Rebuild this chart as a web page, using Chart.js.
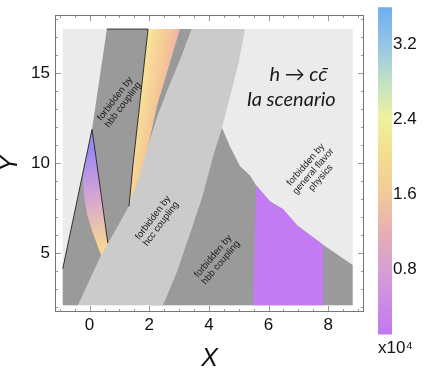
<!DOCTYPE html>
<html>
<head>
<meta charset="utf-8">
<script src="https://cdn.jsdelivr.net/npm/chart.js@4.4.1/dist/chart.umd.min.js"></script>
<style>
    html, body { margin: 0; padding: 0; background: #fff; }
    #wrap { position: relative; width: 425px; height: 369px; overflow: hidden; }
    #main { position: absolute; left: 0; top: 0; }
    #bar { position: absolute; left: 370px; top: -4px; }
</style>
</head>
<body>
<div id="wrap">
    <canvas id="main" width="425" height="369"></canvas>
    <canvas id="bar" width="55" height="373"></canvas>
</div>
<script>
// ---- axis ticks ----
const xTicks = [0, 2, 4, 6, 8];
const xMinorTicks = [-1, -0.5, 0, 0.5, 1, 1.5, 2, 2.5, 3, 3.5, 4, 4.5, 5, 5.5, 6, 6.5, 7, 7.5, 8, 8.5, 9];
const yTicks = [5, 10, 15];
const yMinorTicks = [2, 3, 4, 5, 6, 7, 8, 9, 10, 11, 12, 13, 14, 15, 16, 17, 18];

// ---- regions (X, Y outlines) ----
const bgX = [-0.90, 8.82, 8.82, -0.90];
const bgY = [2.10, 2.10, 17.45, 17.45];

const hbbLeftX = [0.58, 3.43, 3.03, 2.59, 2.26, 1.96, 1.69, 1.32, -0.39, -0.90, -0.90, 0.08];
const hbbLeftY = [17.45, 17.45, 15.71, 13.95, 12.51, 10.91, 9.31, 7.60, 2.10, 2.10, 4.13, 11.87];

const bandAX = [0.08, -0.16, -0.22, -0.19, -0.09, 0.11, 0.35, 0.48, 0.61, 0.48, 0.35, 0.21];
const bandAY = [11.87, 9.84, 9.20, 8.24, 7.17, 6.10, 5.04, 4.61, 5.57, 7.17, 8.77, 10.37];

const bandBX = [1.96, 3.03, 2.59, 2.26, 1.96, 1.69, 1.32, 1.45];
const bandBY = [17.45, 17.45, 15.02, 13.20, 10.91, 9.31, 7.60, 9.84];

const hccX = [3.43, 3.03, 2.59, 2.26, 1.96, 1.69, 1.32, 0.35, -0.39, 2.46, 2.93, 3.37, 3.80, 4.14, 4.44, 4.71, 4.98, 5.21];
const hccY = [17.45, 15.71, 13.95, 12.51, 10.91, 9.31, 7.60, 4.77, 2.10, 2.10, 3.97, 6.10, 8.24, 10.37, 11.97, 13.73, 15.44, 17.45];

const hbbRightX = [2.02, 3.87, 4.44, 4.71, 4.88, 5.04, 5.38, 5.58, 6.05, 6.49, 6.96, 7.83, 8.82, 8.82];
const hbbRightY = [2.10, 9.84, 11.97, 10.91, 10.37, 9.84, 9.31, 8.77, 7.87, 7.44, 6.53, 5.46, 4.34, 2.10];

const allowedX = [5.58, 6.05, 6.49, 6.96, 7.83, 7.83, 5.48];
const allowedY = [8.77, 7.87, 7.44, 6.53, 5.46, 2.10, 2.10];

// black outline segments
const edge1X = [-0.90, 0.08];
const edge1Y = [4.13, 11.87];
const edge2X = [0.58, 1.96, 1.45, 1.32];
const edge2Y = [17.45, 17.45, 9.84, 7.60];
const edge3X = [0.08, 0.21, 0.61];
const edge3Y = [11.87, 10.37, 5.57];

// ---- annotations ----
const noteX = [0.99, 2.26, 4.27, 7.50];
const noteY = [13.41, 6.80, 4.65, 9.55];
const noteAngle = [-53, -53, -50, -49];
const noteText = [
    ['forbidden by', 'hbb coupling'],
    ['forbidden by', 'hcc coupling'],
    ['forbidden by', 'hbb coupling'],
    ['forbidden by', 'general flavor', 'physics']
];
const headX = [7.0, 6.76];
const headY = [14.9, 13.55];
const headText = ['h \u2192 cc\u0304', 'Ia scenario'];

// ---- colour bar (x10^4) ----
const cbMin = 0.1;
const cbMax = 3.6;
const cbTicks = [0.8, 1.6, 2.4, 3.2];

const FONT = "'Liberation Sans', Arial, sans-serif";

function poly(xs, ys) {
    const pts = xs.map((x, i) => ({ x, y: ys[i] }));
    pts.push({ x: xs[0], y: ys[0] });
    return pts;
}

function area(xs, ys, color, order) {
    return {
        data: poly(xs, ys), backgroundColor: color, fill: 'shape',
        borderWidth: 0, pointRadius: 0, tension: 0, order
    };
}

function edge(xs, ys) {
    return {
        data: xs.map((x, i) => ({ x, y: ys[i] })), fill: false,
        borderColor: '#222', borderWidth: 0.9, pointRadius: 0, tension: 0, order: 1
    };
}

// gradient in data coordinates
function dataGradient(x0, y0, x1, y1, stops) {
    return ctx => {
        const { chart } = ctx;
        if (!chart.chartArea) return stops[0][1];
        const sx = chart.scales.x, sy = chart.scales.y;
        const g = chart.ctx.createLinearGradient(
            sx.getPixelForValue(x0), sy.getPixelForValue(y0),
            sx.getPixelForValue(x1), sy.getPixelForValue(y1));
        stops.forEach(s => g.addColorStop(s[0], s[1]));
        return g;
    };
}

const frameTicks = {
    id: 'frameTicks',
    afterDraw(chart) {
        const { ctx, chartArea: a, scales: { x, y } } = chart;
        ctx.save();
        ctx.strokeStyle = '#9a9a9a';
        ctx.lineWidth = 1;
        ctx.beginPath();
        xMinorTicks.forEach(v => {
            const p = Math.round(x.getPixelForValue(v)) + 0.5;
            const len = xTicks.includes(v) ? 6 : 3;
            ctx.moveTo(p, a.bottom); ctx.lineTo(p, a.bottom - len);
            ctx.moveTo(p, a.top); ctx.lineTo(p, a.top + len);
        });
        yMinorTicks.forEach(v => {
            const p = Math.round(y.getPixelForValue(v)) + 0.5;
            const len = yTicks.includes(v) ? 6 : 3;
            ctx.moveTo(a.left, p); ctx.lineTo(a.left + len, p);
            ctx.moveTo(a.right, p); ctx.lineTo(a.right - len, p);
        });
        ctx.stroke();
        ctx.strokeStyle = '#777';
        ctx.strokeRect(Math.round(a.left) + 0.5, Math.round(a.top) + 0.5,
            Math.round(a.width) - 1, Math.round(a.height) - 1);
        ctx.restore();
    }
};

const notes = {
    id: 'notes',
    afterDatasetsDraw(chart) {
        const { ctx, scales: { x, y } } = chart;
        ctx.save();
        ctx.fillStyle = '#1a1a1a';
        ctx.textAlign = 'center';
        ctx.textBaseline = 'middle';
        ctx.font = '9.5px ' + FONT;
        noteText.forEach((lines, i) => {
            ctx.save();
            ctx.translate(x.getPixelForValue(noteX[i]), y.getPixelForValue(noteY[i]));
            ctx.rotate(noteAngle[i] * Math.PI / 180);
            lines.forEach((t, j) => ctx.fillText(t, 0, (j - (lines.length - 1) / 2) * 10));
            ctx.restore();
        });
        ctx.font = "italic 20px Lato, 'Open Sans', sans-serif";
        headText.forEach((t, i) => {
            ctx.fillText(t, x.getPixelForValue(headX[i]), y.getPixelForValue(headY[i]));
        });
        ctx.restore();
    }
};

new Chart(document.getElementById('main'), {
    type: 'line',
    data: {
        datasets: [
            area(bgX, bgY, '#ebebeb', 10),
            area(hbbLeftX, hbbLeftY, '#9a9a9a', 9),
            area(hbbRightX, hbbRightY, '#9a9a9a', 9),
            area(bandAX, bandAY, dataGradient(-0.15, 10.6, 0.55, 5.2,
                [[0, '#9c8af4'], [0.45, '#d6a4d4'], [1, '#f8da8e']]), 8),
            area(bandBX, bandBY, dataGradient(1.7, 15.2, 3.05, 14.8,
                [[0, '#f8e79a'], [0.5, '#f5c896'], [1, '#eea2b6']]), 8),
            area(hccX, hccY, '#cbcbcb', 7),
            area(allowedX, allowedY, '#c37bf1', 6),
            edge(edge1X, edge1Y),
            edge(edge2X, edge2Y),
            edge(edge3X, edge3Y)
        ]
    },
    options: {
        responsive: false,
        animation: false,
        layout: { padding: { top: 3, right: 61, left: 0, bottom: 0 } },
        plugins: { legend: { display: false }, tooltip: { enabled: false } },
        scales: {
            x: {
                type: 'linear', min: -1.16, max: 9.2,
                afterBuildTicks: s => { s.ticks = xTicks.map(v => ({ value: v })); },
                afterFit: s => { s.height = 57; },
                grid: { display: false, drawTicks: false },
                border: { display: false },
                ticks: { padding: 3, color: '#111', maxRotation: 0, autoSkip: false, font: { size: 17, family: FONT } },
                title: { display: true, text: 'X', color: '#111', padding: 0,
                    font: { size: 25, style: 'italic', family: FONT, lineHeight: 0.8 } }
            },
            y: {
                type: 'linear', min: 1.73, max: 18.22,
                afterBuildTicks: s => { s.ticks = yTicks.map(v => ({ value: v })); },
                afterFit: s => { s.width = 55; },
                grid: { display: false, drawTicks: false },
                border: { display: false },
                ticks: { padding: 5, color: '#111', font: { size: 17, family: FONT } },
                title: { display: true, text: 'Y', color: '#111', padding: 0,
                    font: { size: 25, style: 'italic', family: FONT, lineHeight: 0.8 } }
            }
        }
    },
    plugins: [frameTicks, notes]
});

// ---- colour bar ----
new Chart(document.getElementById('bar'), {
    type: 'bar',
    data: {
        labels: [''],
        datasets: [{
            data: [[cbMin, cbMax]],
            barPercentage: 1, categoryPercentage: 1, borderWidth: 0,
            backgroundColor: ctx => {
                const a = ctx.chart.chartArea;
                if (!a) return '#c37bf1';
                const g = ctx.chart.ctx.createLinearGradient(0, a.bottom, 0, a.top);
                g.addColorStop(0, '#c277f3');
                g.addColorStop(0.2, '#d6a0d2');
                g.addColorStop(0.31, '#e6aeb4');
                g.addColorStop(0.43, '#f2ca98');
                g.addColorStop(0.55, '#f3de90');
                g.addColorStop(0.66, '#eef29e');
                g.addColorStop(0.77, '#c2e2c4');
                g.addColorStop(0.89, '#94c4e6');
                g.addColorStop(1, '#6eaef2');
                return g;
            }
        }]
    },
    options: {
        responsive: false,
        animation: false,
        layout: { padding: { left: 8, top: 9, bottom: 4, right: 0 } },
        plugins: {
            legend: { display: false }, tooltip: { enabled: false },
            title: { display: true, position: 'bottom', align: 'start', text: 'x10\u2074', color: '#111',
                font: { size: 17, weight: 'normal', family: FONT }, padding: { top: 4, bottom: 6 } }
        },
        scales: {
            x: { display: false },
            y: {
                position: 'right', min: cbMin, max: cbMax,
                afterBuildTicks: s => { s.ticks = cbTicks.map(v => ({ value: v })); },
                afterFit: s => { s.width = 33; },
                grid: { display: false, drawTicks: false },
                border: { display: false },
                ticks: { padding: 1, color: '#111', font: { size: 17, family: FONT } }
            }
        }
    }
});
</script>
</body>
</html>
